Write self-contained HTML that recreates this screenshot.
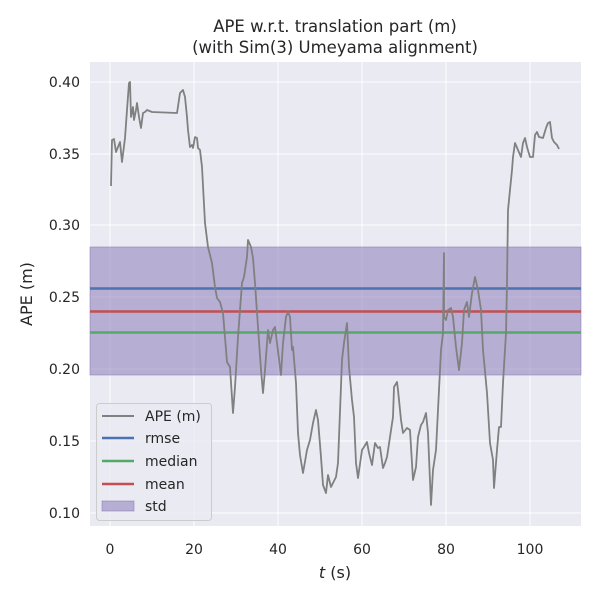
<!DOCTYPE html>
<html><head><meta charset="utf-8"><style>body{margin:0;background:#fff}svg{display:block}text{font-family:"DejaVu Sans","Liberation Sans",sans-serif;fill:#262626}</style></head><body>
<svg width="600" height="600" viewBox="0 0 600 600">
<rect x="90" y="62" width="491" height="464" fill="#eaeaf2"/>
<g stroke="#fff" stroke-width="1">
<line x1="110" y1="62" x2="110" y2="526"/><line x1="194" y1="62" x2="194" y2="526"/><line x1="278" y1="62" x2="278" y2="526"/><line x1="362" y1="62" x2="362" y2="526"/><line x1="446" y1="62" x2="446" y2="526"/><line x1="530" y1="62" x2="530" y2="526"/>
<line x1="90" y1="82" x2="581" y2="82"/><line x1="90" y1="154" x2="581" y2="154"/><line x1="90" y1="225" x2="581" y2="225"/><line x1="90" y1="297" x2="581" y2="297"/><line x1="90" y1="369" x2="581" y2="369"/><line x1="90" y1="441" x2="581" y2="441"/><line x1="90" y1="513" x2="581" y2="513"/>
</g>
<rect x="90" y="247" width="491" height="128" fill="#8172b3" fill-opacity="0.5" stroke="#8172b3" stroke-opacity="0.5"/>
<line x1="90" y1="288.5" x2="581" y2="288.5" stroke="#4c72b0" stroke-width="2.5"/>
<line x1="90" y1="311.5" x2="581" y2="311.5" stroke="#c44e52" stroke-width="2.5"/>
<line x1="90" y1="332.5" x2="581" y2="332.5" stroke="#55a868" stroke-width="2.5"/>
<polyline fill="none" stroke="#808080" stroke-width="1.8" stroke-linejoin="round" points="111,186 112,140 114,139 116,152 120,142 122,162 125,138 127,110 129,83 130,82 131,117 133,107 134,120 136,110 137,103 139,117 141,128 143,113 145,112 147,110 152,112 177,113 180,93 183,90 185,97 187,117 188,130 190,147 192,145 193,148 195,137 197,138 198,148 200,150 202,167 205,223 208,247 212,263 215,287 217,298 220,302 223,313 227,362 230,367 233,413 235,387 238,337 242,283 244,277 247,257 248,240 251,247 253,258 255,283 258,327 261,370 263,393 265,370 268,330 270,343 273,330 275,327 277,343 281,375 283,343 286,317 288,312 290,317 292,350 293,347 296,383 298,433 300,455 303,473 307,450 310,440 313,423 316,410 318,420 321,457 323,485 326,493 328,475 331,487 333,483 336,477 338,463 342,360 344,343 347,323 349,367 352,400 354,417 356,463 358,478 362,450 364,447 367,442 369,453 372,465 375,443 378,448 380,447 383,468 385,463 387,457 390,437 393,417 394,387 397,382 398,390 401,420 403,433 407,428 410,430 413,480 416,467 418,437 421,425 423,422 426,413 428,433 431,505 433,470 436,450 438,410 441,350 443,333 444,253 444,317 446,320 448,310 451,308 453,317 456,347 459,370 462,343 464,310 467,302 469,317 472,293 475,277 478,290 481,310 483,350 487,393 490,443 493,460 494,488 497,450 499,427 501,427 503,383 506,333 507,283 508,210 510,190 512,170 513,157 515,143 518,150 521,157 523,143 525,138 527,147 530,157 533,157 535,135 537,132 539,137 543,138 546,128 548,123 550,122 552,138 554,142 557,145 559,149"/>
<g font-size="14" text-anchor="end">
<text x="80" y="87">0.40</text><text x="80" y="159">0.35</text><text x="80" y="230">0.30</text><text x="80" y="302">0.25</text><text x="80" y="374">0.20</text><text x="80" y="446">0.15</text><text x="80" y="518">0.10</text>
</g>
<g font-size="14" text-anchor="middle">
<text x="110" y="554">0</text><text x="194" y="554">20</text><text x="278" y="554">40</text><text x="362" y="554">60</text><text x="446" y="554">80</text><text x="530" y="554">100</text>
<text x="335" y="32" font-size="16.5">APE w.r.t. translation part (m)</text>
<text x="335" y="53" font-size="16.5">(with Sim(3) Umeyama alignment)</text>
<text x="335" y="578" font-size="16"><tspan font-style="italic">t</tspan> (s)</text>
</g>
<text x="32" y="294" font-size="16" text-anchor="middle" transform="rotate(-90 32 294)">APE (m)</text>
<rect x="96.5" y="403.5" width="115" height="117" rx="3" fill="#eaeaf2" fill-opacity="0.8" stroke="#cccccc"/>
<g stroke-width="2.5"><line x1="102" y1="416" x2="134" y2="416" stroke="#808080" stroke-width="2"/><line x1="102" y1="438" x2="134" y2="438" stroke="#4c72b0"/><line x1="102" y1="461" x2="134" y2="461" stroke="#55a868"/><line x1="102" y1="484" x2="134" y2="484" stroke="#c44e52"/></g>
<rect x="102" y="501" width="32" height="10" fill="#8172b3" fill-opacity="0.5" stroke="#8172b3" stroke-opacity="0.5"/>
<g font-size="14"><text x="145" y="421">APE (m)</text><text x="145" y="443">rmse</text><text x="145" y="466">median</text><text x="145" y="489">mean</text><text x="145" y="511">std</text></g>
</svg>
</body></html>
